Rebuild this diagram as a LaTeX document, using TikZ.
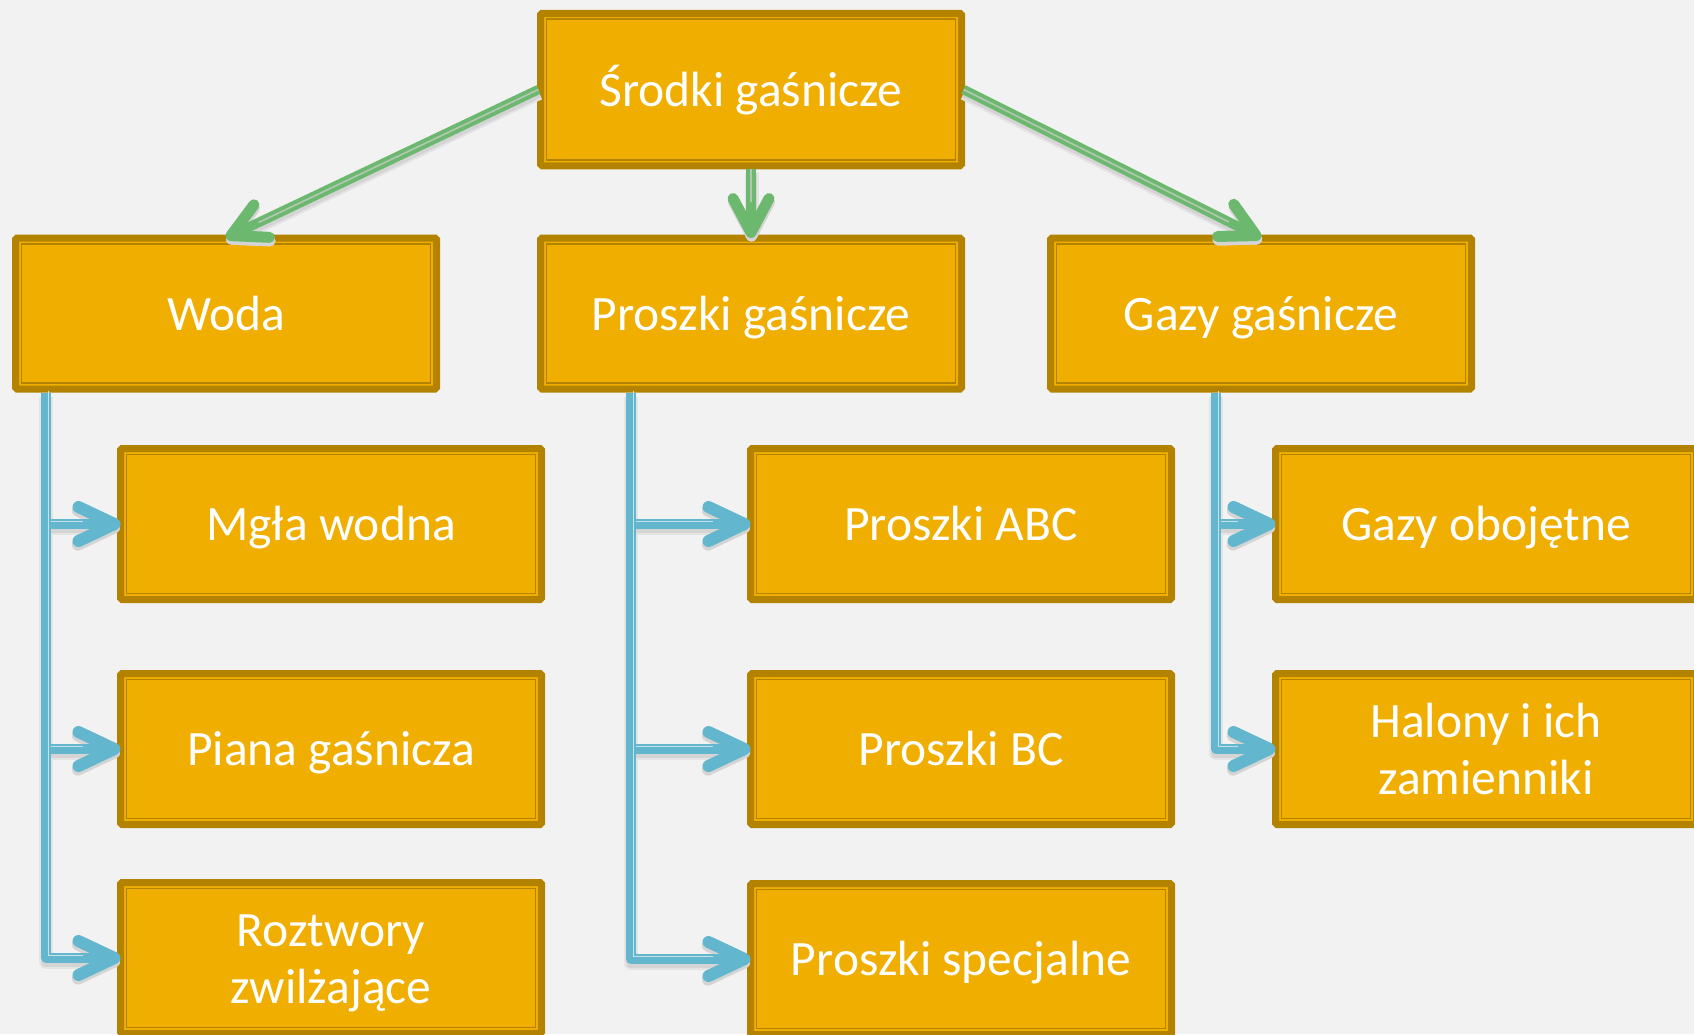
\documentclass[tikz,border=0pt]{standalone}
\usepackage{fontspec}
\setmainfont{Carlito}
\usetikzlibrary{arrows.meta}
\definecolor{bgc}{HTML}{F2F2F2}
\definecolor{boxfill}{HTML}{F0AE00}
\definecolor{boxline}{HTML}{B38300}
\definecolor{grn}{HTML}{6CB86F}
\definecolor{blu}{HTML}{62B6CE}
\definecolor{gstripe}{HTML}{B3C8B3}
\definecolor{bstripe}{HTML}{C8E0E7}
\definecolor{shadeA}{HTML}{E4E4E4}
\definecolor{shadeB}{HTML}{D4D4D4}
\tikzset{
  box/.style={draw=boxline, line width=7pt, fill=boxfill, rounded corners=1.5pt,
    minimum width=421pt, minimum height=151pt, inner sep=0pt, outer sep=0pt,
    text=white, font=\fontsize{49.5}{57}\selectfont, text height=33pt, text depth=0pt,
    path picture={\draw[boxline, line width=1.7pt, sharp corners]
      ([shift={(6pt,-6pt)}]path picture bounding box.north west) rectangle
      ([shift={(-6pt,6pt)}]path picture bounding box.south east);}},
  twoline/.style={text height=90pt},
  gtip/.style={-{Straight Barb[length=34pt, width=36pt, line width=11pt, round]}},
  btip/.style={-{Straight Barb[length=36pt, width=34pt, line width=12pt, round]}},
  garrow/.style={draw=grn, line width=9.5pt, gtip},
  gstripeline/.style={draw=gstripe, line width=1.6pt, shorten >=36pt},
  gshadowA/.style={draw=shadeA, line width=14pt, gtip, transform canvas={shift={(0.5pt,-3.5pt)}}},
  gshadowB/.style={draw=shadeB, line width=10pt, gtip, transform canvas={shift={(0.5pt,-3.5pt)}}},
  barrow/.style={draw=blu, line width=9.5pt, line join=round, btip},
  bstripeline/.style={draw=bstripe, line width=1.5pt, shorten >=40pt,
    transform canvas={shift={(2.3pt,2.3pt)}}},
  bshadowA/.style={draw=shadeA, line width=14pt, line join=round, btip,
    transform canvas={shift={(-0.5pt,-3.5pt)}}},
  bshadowB/.style={draw=shadeB, line width=10pt, line join=round, btip,
    transform canvas={shift={(-0.5pt,-3.5pt)}}}
}
\begin{document}
\begin{tikzpicture}[x=1pt, y=-1pt]
\useasboundingbox[fill=bgc] (0,0) rectangle (1694,1034);
\clip (0,0) rectangle (1694,1034);

% boxes
\node[box, minimum height=152.5pt] (top) at (751,89.5) {Środki gaśnicze};
\node[box] (woda)  at (226,313.5)  {Woda};
\node[box] (pg)    at (751,313.5)  {Proszki gaśnicze};
\node[box] (gazy)  at (1261,313.5) {Gazy gaśnicze};

\node[box] (mgla)  at (331,524) {Mgła wodna};
\node[box] (piana) at (331,749) {Piana gaśnicza};
\node[box, twoline] (roztw) at (331,958)
  {\begin{tabular}[b]{@{}c@{}}Roztwory\\zwilżające\end{tabular}};

\node[box] (pabc)  at (961,524) {Proszki ABC};
\node[box] (pbc)   at (961,749) {Proszki BC};
\node[box] (pspec) at (961,959) {Proszki specjalne};

\node[box] (gob)    at (1486,524) {Gazy obojętne};
\node[box, twoline] (halony) at (1486,749)
  {\begin{tabular}[b]{@{}c@{}}Halony i ich\\zamienniki\end{tabular}};

% green connectors
\coordinate (tl) at ([xshift=-2pt]top.west);
\coordinate (tr) at ([xshift=2pt]top.east);
\coordinate (tb) at ([yshift=-3.5pt]top.south);
\foreach \s/\c in {tl/woda, tb/pg, tr/gazy}{
  \draw[gshadowA] (\s) -- (\c.north);
}
\foreach \s/\c in {tl/woda, tb/pg, tr/gazy}{
  \draw[gshadowB] (\s) -- (\c.north);
}
\foreach \s/\c in {tl/woda, tb/pg, tr/gazy}{
  \draw[garrow] (\s) -- (\c.north);
  \draw[gstripeline] (\s) -- (\c.north);
}

% blue connectors
\coordinate (wv) at (46,393);
\coordinate (pv) at (631,393);
\coordinate (gv) at (1216,393);
\foreach \s/\c in {wv/mgla, wv/piana, wv/roztw, pv/pabc, pv/pbc, pv/pspec, gv/gob, gv/halony}{
  \draw[bshadowA] (\s) |- (\c.west);
}
\foreach \s/\c in {wv/mgla, wv/piana, wv/roztw, pv/pabc, pv/pbc, pv/pspec, gv/gob, gv/halony}{
  \draw[bshadowB] (\s) |- (\c.west);
}
\foreach \s/\c in {wv/mgla, wv/piana, wv/roztw, pv/pabc, pv/pbc, pv/pspec, gv/gob, gv/halony}{
  \draw[barrow] (\s) |- (\c.west);
  \draw[bstripeline] (\s) |- (\c.west);
}
\end{tikzpicture}
\end{document}
